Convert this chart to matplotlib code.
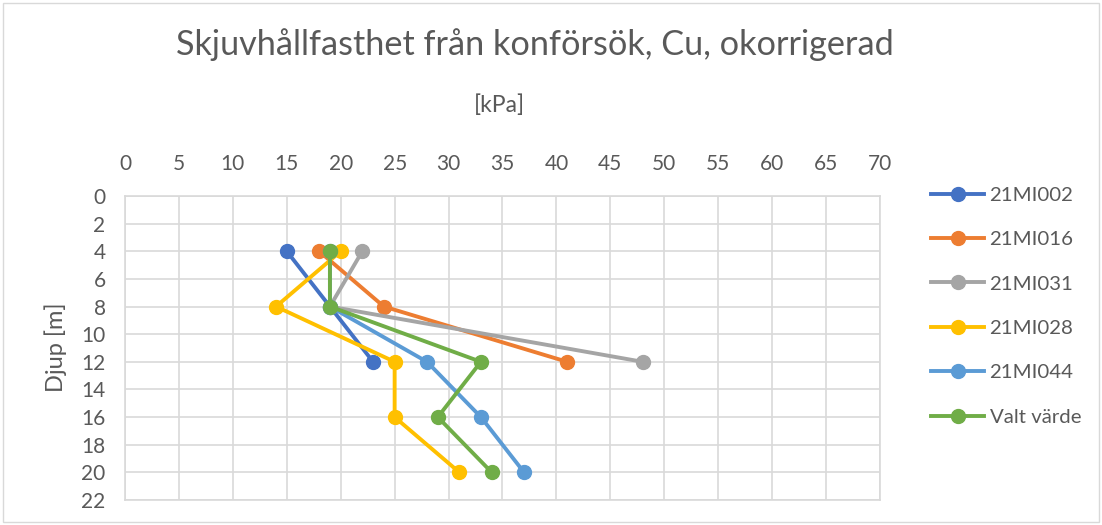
import matplotlib
matplotlib.use("Agg")
import matplotlib.pyplot as plt
from matplotlib.patches import Rectangle

plt.rcParams['font.family'] = ['Lato', 'DejaVu Sans']

series_names = ["21MI002", "21MI016", "21MI031", "21MI028", "21MI044", "Valt värde"]
depth_002 = [4, 8, 12]
cu_002 = [15, 19, 23]
depth_016 = [4, 8, 12]
cu_016 = [18, 24, 41]
depth_031 = [4, 8, 12]
cu_031 = [22, 19, 48]
depth_028 = [4, 8, 12, 16, 20]
cu_028 = [20, 14, 25, 25, 31]
depth_044 = [4, 8, 12, 16, 20]
cu_044 = [19, 19, 28, 33, 37]
depth_valt = [4, 8, 12, 16, 20]
cu_valt = [19, 19, 33, 29, 34]

colors = ["#4472C4", "#ED7D31", "#A5A5A5", "#FFC000", "#5B9BD5", "#70AD47"]
data = [(cu_002, depth_002), (cu_016, depth_016), (cu_031, depth_031),
        (cu_028, depth_028), (cu_044, depth_044), (cu_valt, depth_valt)]

txt = "#595959"
fig = plt.figure(figsize=(11.02, 5.25), dpi=100)
ax = fig.add_axes([125/1102, 1-500/525, 755/1102, 304/525])

for (x, y), c, n in zip(data, colors, series_names):
    ax.plot(x, y, color=c, lw=2.8, marker='o', ms=10, label=n, zorder=3)

ax.set_xlim(0, 70)
ax.set_ylim(22, 0)
ax.set_xticks(range(0, 71, 5))
ax.set_yticks(range(0, 23, 2))
ax.xaxis.tick_top()
ax.xaxis.set_label_position('top')
ax.tick_params(axis='both', length=0, labelsize=15, colors=txt)
ax.tick_params(axis='x', pad=16)
ax.tick_params(axis='y', pad=14)
ax.grid(True, color="#D9D9D9", lw=1.2)
ax.set_axisbelow(True)
for s in ax.spines.values():
    s.set_color("#D9D9D9")
    s.set_linewidth(1.2)

ax.set_xlabel("[kPa]", fontsize=16.5, color=txt)
ax.xaxis.set_label_coords(0.5 - 3/755, (500-105)/304)
ax.xaxis.label.set_va('center')
ax.set_ylabel("Djup [m]", fontsize=17, color=txt)
ax.yaxis.set_label_coords((56-125)/755, (500-347)/304)
ax.yaxis.label.set_va('center')
fig.text(535/1102, 1-45/525, "Skjuvhållfasthet från konförsök, Cu, okorrigerad",
         ha='center', va='center', fontsize=24.7, color=txt)

leg = ax.legend(loc='upper left', bbox_to_anchor=(913/1102, 1-168/525),
                bbox_transform=fig.transFigure, frameon=False, fontsize=14.7,
                labelspacing=1.33, handlelength=2.6, handletextpad=0.25)
for t in leg.get_texts():
    t.set_color(txt)

fig.patches.append(Rectangle((3/1102, 3/525), 1096/1102, 519/525, transform=fig.transFigure,
                             fill=False, edgecolor="#D9D9D9", lw=1))
fig.savefig("out.png", dpi=100)
